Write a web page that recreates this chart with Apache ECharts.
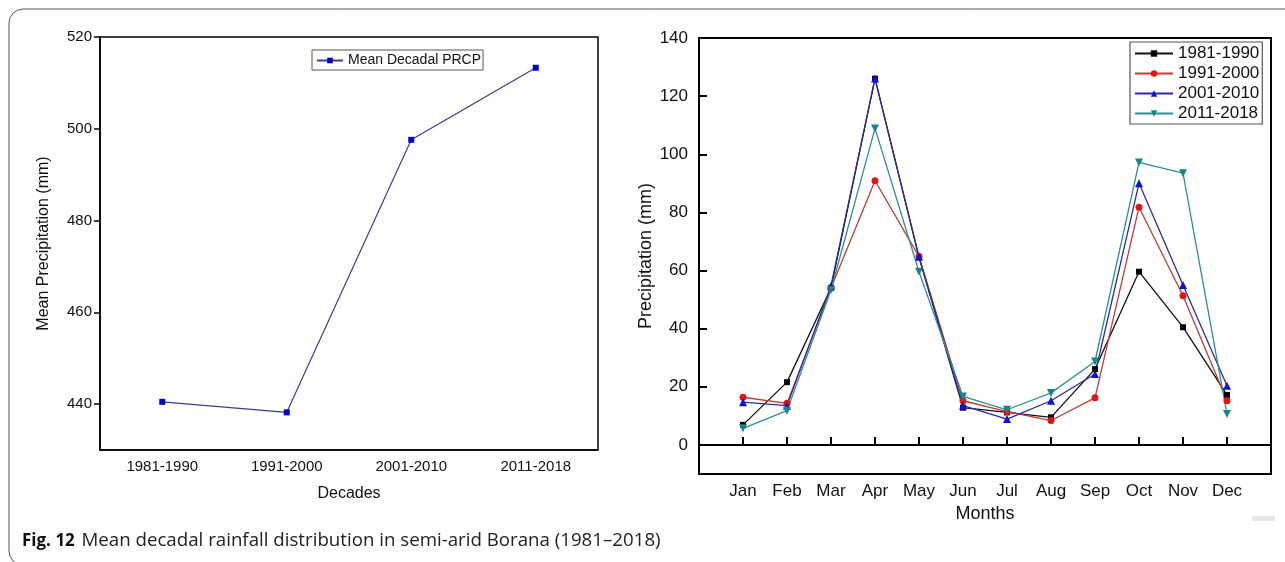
<!DOCTYPE html>
<html>
<head>
<meta charset="utf-8">
<script src="https://cdn.jsdelivr.net/npm/echarts@6/dist/echarts.min.js"></script>
<style>html,body{margin:0;padding:0;background:#fff}#c{width:1285px;height:562px}</style>
</head>
<body>
<div id="c"></div>
<script>
// Left panel data
const decades = ['1981-1990', '1991-2000', '2001-2010', '2011-2018'];
const decadalMean = [440.5, 438.2, 497.6, 513.3];
const leftTicks = [440, 460, 480, 500, 520];

// Right panel data
const months = ['Jan', 'Feb', 'Mar', 'Apr', 'May', 'Jun', 'Jul', 'Aug', 'Sep', 'Oct', 'Nov', 'Dec'];
const p1981 = [6.9, 21.6, 54.0, 126.0, 64.5, 12.8, 11.2, 9.5, 26.1, 59.6, 40.5, 17.2];
const p1991 = [16.4, 14.3, 54.0, 90.9, 64.8, 15.2, 11.5, 8.4, 16.2, 81.8, 51.3, 15.2];
const p2001 = [14.7, 13.5, 54.8, 126.1, 64.8, 13.5, 8.9, 15.2, 24.4, 90.0, 55.0, 20.4];
const p2011 = [5.7, 11.8, 53.3, 108.9, 59.6, 16.7, 12.1, 17.9, 28.7, 97.2, 93.5, 10.6];
const rightTicks = [0, 20, 40, 60, 80, 100, 120, 140];
const monthPos = [1, 2, 3, 4, 5, 6, 7, 8, 9, 10, 11, 12];

const FONT = 'Liberation Sans, Arial, sans-serif';
const CAP_FONT = 'Open Sans, Noto Sans, sans-serif';
const TXT = '#111';

function pts(arr) { return arr.map((v, i) => [monthPos[i], v]); }

const chart = echarts.init(document.getElementById('c'), null, { renderer: 'canvas' });

const rightSeries = [
  { name: '1981-1990', data: p1981, color: '#000000', line: '#111111', symbol: 'rect', size: 6, rot: 0 },
  { name: '1991-2000', data: p1991, color: '#e01515', line: '#c23a3a', symbol: 'circle', size: 7, rot: 0 },
  { name: '2001-2010', data: p2001, color: '#1010d8', line: '#2b2ba8', symbol: 'triangle', size: 8, rot: 0 },
  { name: '2011-2018', data: p2011, color: '#1a8585', line: '#2e8f8f', symbol: 'triangle', size: 8, rot: 180 }
];

const option = {
  animation: false,
  backgroundColor: '#fff',
  textStyle: { fontFamily: FONT, color: TXT },
  grid: [
    { left: 100, top: 37, width: 498, height: 413, show: true, borderColor: '#000', borderWidth: 1.5, containLabel: false },
    { left: 699, top: 38, width: 572, height: 436, show: true, borderColor: '#000', borderWidth: 2, containLabel: false }
  ],
  legend: [
    {
      data: ['Mean Decadal PRCP'],
      left: 312, top: 50, orient: 'vertical',
      padding: [3, 2, 2, 4],
      itemWidth: 26, itemHeight: 7,
      borderColor: '#555', borderWidth: 1,
      textStyle: { fontFamily: FONT, fontSize: 14, lineHeight: 15, color: TXT }
    },
    {
      data: rightSeries.map(s => s.name),
      left: 1130, top: 42, orient: 'vertical',
      padding: [3, 3, 2, 4],
      itemGap: 3, itemWidth: 38, itemHeight: 8,
      borderColor: '#555', borderWidth: 1.2,
      textStyle: { fontFamily: FONT, fontSize: 17, lineHeight: 17, color: TXT }
    }
  ],
  xAxis: [
    {
      gridIndex: 0, type: 'category', data: decades, boundaryGap: true,
      name: 'Decades', nameLocation: 'middle', nameGap: 36,
      nameTextStyle: { fontFamily: FONT, fontSize: 16, color: TXT },
      axisLine: { lineStyle: { color: '#000', width: 1.5 } },
      axisTick: { alignWithLabel: true, length: 6, lineStyle: { color: '#000', width: 1.5 } },
      axisLabel: { margin: 9, fontSize: 15, color: TXT, fontFamily: FONT },
      splitLine: { show: false }
    },
    {
      gridIndex: 1, type: 'value', min: 0, max: 13,
      name: 'Months', nameLocation: 'middle', nameGap: 25,
      nameTextStyle: { fontFamily: FONT, fontSize: 18, color: TXT },
      axisLine: { lineStyle: { color: '#000', width: 2 } },
      axisTick: { inside: true, length: 8, customValues: monthPos, lineStyle: { color: '#000', width: 2 } },
      axisLabel: { margin: 9, fontSize: 17, color: TXT, fontFamily: FONT, customValues: monthPos,
        formatter: v => months[Math.round(v) - 1] || '' },
      splitLine: { show: false }
    }
  ],
  yAxis: [
    {
      gridIndex: 0, type: 'value', min: 430, max: 520,
      name: 'Mean Precipitation (mm)', nameLocation: 'middle', nameGap: 48,
      nameTextStyle: { fontFamily: FONT, fontSize: 16, color: TXT },
      axisLine: { show: true, lineStyle: { color: '#000', width: 1.5 } },
      axisTick: { show: true, length: 6, customValues: leftTicks, lineStyle: { color: '#000', width: 1.5 } },
      axisLabel: { margin: 8, fontSize: 15, color: TXT, fontFamily: FONT, customValues: leftTicks },
      splitLine: { show: false }
    },
    {
      gridIndex: 1, type: 'value', min: -10, max: 140,
      name: 'Precipitation (mm)', nameLocation: 'middle', nameGap: 44,
      nameTextStyle: { fontFamily: FONT, fontSize: 18, color: TXT },
      axisLine: { show: true, lineStyle: { color: '#000', width: 2 } },
      axisTick: { show: true, inside: true, length: 8, customValues: rightTicks, lineStyle: { color: '#000', width: 2 } },
      axisLabel: { margin: 11, fontSize: 17, color: TXT, fontFamily: FONT, customValues: rightTicks },
      splitLine: { show: false }
    }
  ],
  series: [
    {
      name: 'Mean Decadal PRCP', type: 'line', xAxisIndex: 0, yAxisIndex: 0,
      data: decadalMean,
      symbol: 'rect', symbolSize: 6,
      lineStyle: { color: '#3c3c8e', width: 1.2 },
      itemStyle: { color: '#0000c8' }
    }
  ].concat(rightSeries.map(s => ({
    name: s.name, type: 'line', xAxisIndex: 1, yAxisIndex: 1,
    data: pts(s.data),
    symbol: s.symbol, symbolSize: s.size, symbolRotate: s.rot,
    lineStyle: { color: s.line, width: 1.3 },
    itemStyle: { color: s.color }
  }))),
  graphic: [
    {
      type: 'rect', silent: true,
      shape: { x: 9, y: 9, width: 1320, height: 556, r: 14 },
      style: { fill: 'none', stroke: '#555', lineWidth: 1 }
    },
    {
      type: 'rect', silent: true,
      shape: { x: 1252, y: 516, width: 23, height: 5 },
      style: { fill: '#e6e6e6' }
    },
    {
      type: 'text', silent: true,
      x: 22, y: 541,
      style: {
        text: '{b|Fig. 12}  {n|Mean decadal rainfall distribution in semi-arid Borana (1981\u20132018)}',
        verticalAlign: 'middle',
        rich: {
          b: { fontFamily: CAP_FONT, fontWeight: 'bold', fontSize: 17, fill: '#111' },
          n: { fontFamily: CAP_FONT, fontSize: 18.7, fill: '#222' }
        }
      }
    }
  ]
};

chart.setOption(option);
</script>
</body>
</html>
